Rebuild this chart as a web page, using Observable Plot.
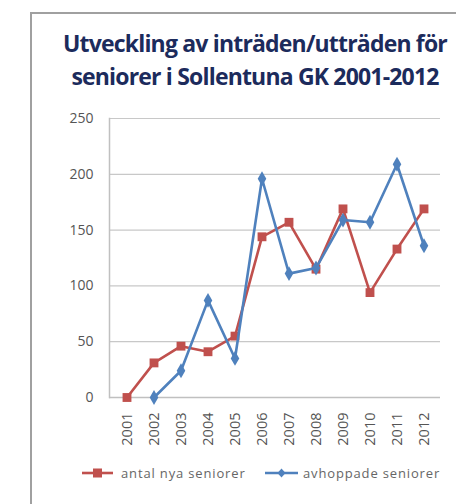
<!DOCTYPE html>
<html><head><meta charset="utf-8">
<script src="https://cdn.jsdelivr.net/npm/d3@7"></script>
<script src="https://cdn.jsdelivr.net/npm/@observablehq/plot@0.6"></script>
<style>
body{margin:0;width:456px;height:504px;overflow:hidden;background:#fff;font-family:"Open Sans",sans-serif;position:relative}
#frame{position:absolute;left:30px;top:12px;width:500px;height:600px;border-top:2px solid #a0a0a0;border-left:2px solid #a0a0a0}
#title{position:absolute;left:35px;top:27px;width:440px;text-align:center;font-weight:bold;font-size:23px;line-height:33px;color:#1c2b5c;font-family:"Open Sans",sans-serif;letter-spacing:-0.82px;white-space:nowrap}
#chart{position:absolute;left:0;top:100px}
#legend{position:absolute;top:464px;left:0;width:456px;height:18px;font-size:13px;color:#666;letter-spacing:0.85px}
.item{position:absolute;top:0;display:flex;align-items:center;gap:8px}
</style></head>
<body>
<div id="frame"></div>
<div id="title">Utveckling av inträden/utträden för<br>seniorer i Sollentuna GK 2001-2012</div>
<div id="chart"></div>
<div id="legend"></div>
<script>
const years = ["2001","2002","2003","2004","2005","2006","2007","2008","2009","2010","2011","2012"];
const nyaSeniorer = [0, 31, 46, 41, 55, 144, 157, 115, 169, 94, 133, 169];
const avhoppade = [null, 0, 24, 87, 35, 196, 111, 116, 159, 157, 209, 136];
const seriesNames = ["antal nya seniorer", "avhoppade seniorer"];
const seriesColors = ["#c0504d", "#4f81bd"];
const seriesSymbols = ["square", "diamond"];
const yTicks = [0, 50, 100, 150, 200, 250];

const redRows = years.map((y, i) => ({year: y, value: nyaSeniorer[i], series: seriesNames[0]})).filter(d => d.value != null);
const blueRows = years.map((y, i) => ({year: y, value: avhoppade[i], series: seriesNames[1]})).filter(d => d.value != null);

const chart = Plot.plot({
  width: 456, height: 360,
  marginTop: 18, marginBottom: 63, marginLeft: 109, marginRight: 16,
  style: "font-family:'Open Sans',sans-serif;background:transparent;",
  x: {type: "band", domain: years, padding: 0},
  y: {domain: [0, 250]},
  color: {domain: seriesNames, range: seriesColors},
  marks: [
    Plot.gridY(yTicks.filter(t => t > 0), {stroke: "#c8c8c8", strokeOpacity: 1, strokeWidth: 1.2}),
    Plot.axisY(yTicks, {fontSize: 14, fill: "#555", tickSize: 0, tickPadding: 16, label: null}),
    Plot.axisX({fontSize: 14.5, fill: "#555", tickSize: 0, tickPadding: 15, tickRotate: -90, label: null}),
    Plot.frame({anchor: "left", stroke: "#c0c0c0", strokeWidth: 1.5}),
    Plot.ruleY([0], {stroke: "#c0c0c0", strokeWidth: 1.5}),
    Plot.line(redRows, {x: "year", y: "value", stroke: "series", strokeWidth: 2.6}),
    Plot.dot(redRows, {x: "year", y: "value", fill: "series", symbol: () => seriesSymbols[0], r: 5}),
    Plot.line(blueRows, {x: "year", y: "value", stroke: "series", strokeWidth: 2.6}),
    Plot.dot(blueRows, {x: "year", y: "value", fill: "series", symbol: () => seriesSymbols[1], r: 4.5})
  ]
});
document.getElementById("chart").appendChild(chart);

const legend = document.getElementById("legend");
const lefts = [82, 265];
const widths = [31, 33];
seriesNames.forEach((name, i) => {
  const item = document.createElement("div");
  item.className = "item";
  item.style.left = lefts[i] + "px";
  if (i === 1) item.style.gap = "5px";
  const w = widths[i];
  const sym = i === 0
    ? `<rect x="${w/2-4.5}" y="4.5" width="9" height="9" fill="${seriesColors[i]}"/>`
    : `<path d="M${w/2},4.5 L${w/2+4},9 L${w/2},13.5 L${w/2-4},9Z" fill="${seriesColors[i]}"/>`;
  item.innerHTML = `<svg width="${w}" height="18"><line x1="0" x2="${w}" y1="9" y2="9" stroke="${seriesColors[i]}" stroke-width="2.6"/>${sym}</svg><span>${name}</span>`;
  legend.appendChild(item);
});
</script>
</body></html>
